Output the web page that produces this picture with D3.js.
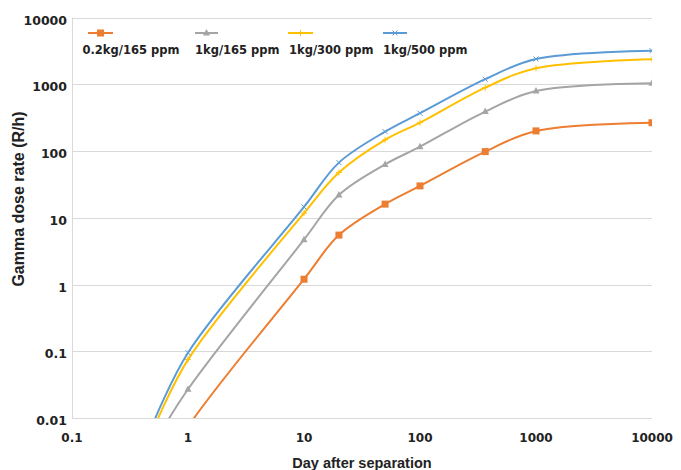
<!DOCTYPE html>
<html><head><meta charset="utf-8">
<script src="https://cdn.jsdelivr.net/npm/d3@7"></script>
<style>html,body{margin:0;padding:0;background:#fff;}svg{display:block;}</style>
</head><body>
<script>
// ---- data ----
const days = [0.5, 1, 10, 20, 50, 100, 365, 1000, 10000];
const seriesNames = ["0.2kg/165 ppm", "1kg/165 ppm", "1kg/300 ppm", "1kg/500 ppm"];
const s02kg165 = [0.0009, 0.0074, 1.2, 5.5, 16, 30, 98, 200, 265];
const s1kg165 = [0.0039, 0.027, 4.7, 22, 63, 116, 390, 790, 1035];
const s1kg300 = [0.0066, 0.075, 11.7, 47.5, 147, 266, 890, 1740, 2370];
const s1kg500 = [0.0083, 0.095, 14.5, 67, 195, 368, 1190, 2390, 3180];
const xTicks = [0.1, 1, 10, 100, 1000, 10000];
const yTicks = [0.01, 0.1, 1, 10, 100, 1000, 10000];
const xTitle = "Day after separation";
const yTitle = "Gamma dose rate (R/h)";

// ---- styling / layout ----
const W = 681, H = 470;
const colors = ["#ED7D31", "#A5A5A5", "#FFC000", "#5B9BD5"];
const markers = ["square", "triangle", "plus", "cross"];
const values = [s02kg165, s1kg165, s1kg300, s1kg500];
const L = 72, R = 652, T = 17.5, B = 418;

const svg = d3.select("body").append("svg").attr("width", W).attr("height", H);
const x = d3.scaleLog().domain([0.1, 10000]).range([L, R]);
const y = d3.scaleLog().domain([0.01, 10000]).range([B, T]);

svg.append("defs").append("clipPath").attr("id", "clip")
  .append("rect").attr("x", L).attr("y", T).attr("width", R - L).attr("height", B - T);

// gridlines
svg.append("g").selectAll("line").data(yTicks).join("line")
  .attr("x1", L).attr("x2", R)
  .attr("y1", d => Math.round(y(d)) + 0.5).attr("y2", d => Math.round(y(d)) + 0.5)
  .attr("stroke", "#d9d9d9").attr("stroke-width", 1);
// y axis line
svg.append("line").attr("x1", L + 0.5).attr("x2", L + 0.5).attr("y1", T).attr("y2", B + 0.5)
  .attr("stroke", "#d9d9d9");

// tick labels
const fmt = d => String(d);
svg.append("g").selectAll("text").data(yTicks).join("text")
  .attr("x", 67).attr("y", d => y(d) + 2.5)
  .attr("text-anchor", "end").attr("dominant-baseline", "central")
  .attr("font-family", "DejaVu Sans").attr("font-weight", "bold").attr("font-size", 12.5)
  .attr("fill", "#222").text(fmt);
svg.append("g").selectAll("text").data(xTicks).join("text")
  .attr("x", d => x(d)).attr("y", 442)
  .attr("text-anchor", "middle")
  .attr("font-family", "DejaVu Sans").attr("font-weight", "bold").attr("font-size", 12)
  .attr("fill", "#222").text(fmt);

// titles
svg.append("text").attr("x", (L + R) / 2).attr("y", 468).attr("text-anchor", "middle")
  .attr("font-family", "Liberation Sans").attr("font-weight", "bold").attr("font-size", 14.5)
  .attr("fill", "#222").text(xTitle);
svg.append("text").attr("transform", "translate(23.5,199) rotate(-90)").attr("text-anchor", "middle")
  .attr("font-family", "Liberation Sans").attr("font-weight", "bold").attr("font-size", 16)
  .attr("fill", "#222").text(yTitle);

function drawMarker(g, type, cx, cy, color) {
  if (type === "square") {
    g.append("rect").attr("x", cx - 3.5).attr("y", cy - 3.5).attr("width", 7).attr("height", 7).attr("fill", color);
  } else if (type === "triangle") {
    g.append("path").attr("d", `M${cx},${cy - 4}L${cx + 3.5},${cy + 2.5}L${cx - 3.5},${cy + 2.5}Z`).attr("fill", color);
  } else if (type === "plus") {
    g.append("path").attr("d", `M${cx - 3},${cy}H${cx + 3}M${cx},${cy - 3}V${cy + 3}`).attr("stroke", color).attr("stroke-width", 1);
  } else {
    g.append("path").attr("d", `M${cx - 2.5},${cy - 2.5}L${cx + 2.5},${cy + 2.5}M${cx - 2.5},${cy + 2.5}L${cx + 2.5},${cy - 2.5}`).attr("stroke", color).attr("stroke-width", 1);
  }
}

// series
const plot = svg.append("g").attr("clip-path", "url(#clip)");
const line = d3.line().x(d => x(d[0])).y(d => y(d[1])).curve(d3.curveCatmullRom.alpha(0.5));
values.forEach((vals, i) => {
  const pts = days.map((d, j) => [d, vals[j]]);
  plot.append("path").attr("d", line(pts)).attr("fill", "none")
    .attr("stroke", colors[i]).attr("stroke-width", 2);
  const mg = plot.append("g");
  pts.forEach(p => drawMarker(mg, markers[i], x(p[0]), y(p[1]), colors[i]));
});

// legend
const legLine = [[88, 113], [195, 218], [288, 313], [383, 407]];
const legText = [82.5, 195, 289, 383];
seriesNames.forEach((name, i) => {
  const g = svg.append("g");
  g.append("line").attr("x1", legLine[i][0]).attr("x2", legLine[i][1]).attr("y1", 33).attr("y2", 33)
    .attr("stroke", colors[i]).attr("stroke-width", 2);
  drawMarker(g, markers[i], (legLine[i][0] + legLine[i][1]) / 2, 33, colors[i]);
  g.append("text").attr("x", legText[i]).attr("y", 53.5)
    .attr("font-family", "DejaVu Sans").attr("font-weight", "bold").attr("font-size", 11.5)
    .attr("fill", "#222").text(name);
});
</script>
</body></html>
